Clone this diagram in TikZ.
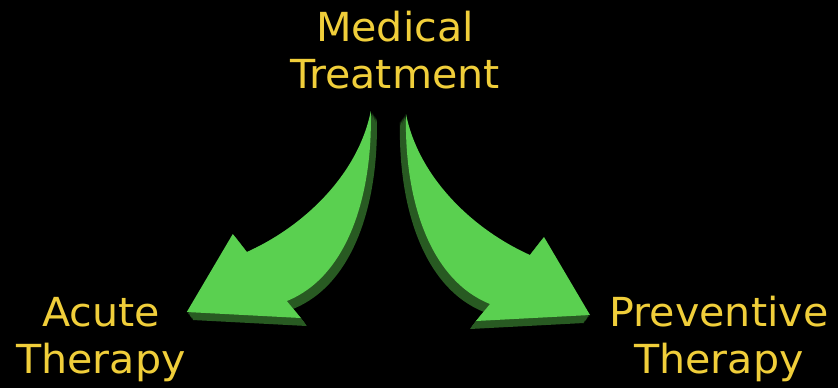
\documentclass[tikz,border=0pt]{standalone}
\usepackage{fontspec}
\newfontfamily\labelfont[FakeStretch=1.03]{DejaVu Sans}
\definecolor{gold}{RGB}{240,206,58}
\definecolor{leaf}{RGB}{90,208,80}
\definecolor{leafdark}{RGB}{40,90,34}

\begin{document}
\begin{tikzpicture}[x=1pt, y=-1pt, line join=round,
	txt/.style={text=gold, font=\labelfont\fontsize{40}{46.5}\selectfont, align=center, inner sep=0pt, anchor=base},
	face/.style={fill=leaf},
	side/.style={fill=leafdark},
	bigarrow/.pic={
		% dark extrusion
		\foreach \t in {1,0.9,...,0.1}
			\fill[side, shift={(-6*\t,8*\t)}] (406,114) .. controls (404,200) and (430,280) .. (490,304)
				-- (476,321) -- (590,315) -- (544,237) -- (530,255)
				.. controls (470,228) and (418,175) .. (406,114) -- cycle;
		% front face
		\fill[face] (406,114) .. controls (404,200) and (430,280) .. (490,304)
			-- (476,321) -- (590,315) -- (544,237) -- (530,255)
			.. controls (470,228) and (418,175) .. (406,114) -- cycle;
	}]

	% background
	\fill[black] (0,0) rectangle (838,388);
	\useasboundingbox (0,0) rectangle (838,388);

	% labels (base = last line)
	\node[txt] (med) at (395,88) {Medical\\Treatment};
	\node[txt] (acute) at (101,373.3) {Acute\\Therapy};
	\node[txt] (prev) at (719,373.3) {Preventive\\Therapy};

	% arrows
	\pic at (0,0) {bigarrow};
	\pic[xscale=-1] at (776.8,-3) {bigarrow};

\end{tikzpicture}
\end{document}
